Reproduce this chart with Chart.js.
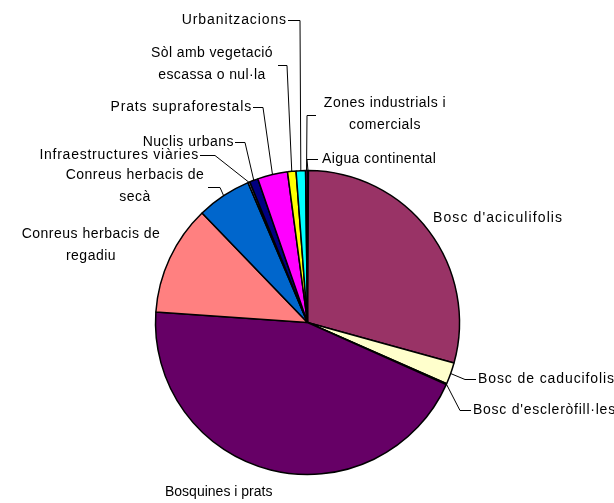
<!DOCTYPE html>
<html>
<head>
<meta charset="utf-8">
<script src="https://cdn.jsdelivr.net/npm/chart.js@4"></script>
<style>
html,body{margin:0;padding:0;background:#fff;}
#wrap{width:614px;height:503px;}
</style>
</head>
<body>
<div id="wrap"><canvas id="c" width="614" height="503"></canvas></div>
<script>
// ---- data ----
const categories = [
  "Aigua continental",
  "Bosc d'aciculifolis",
  "Bosc de caducifolis",
  "Bosc d'escleròfill·les",
  "Bosquines i prats",
  "Conreus herbacis de regadiu",
  "Conreus herbacis de secà",
  "Infraestructures viàries",
  "Nuclis urbans",
  "Prats supraforestals",
  "Sòl amb vegetació escassa o nul·la",
  "Urbanitzacions",
  "Zones industrials i comercials"
];
const values = [0.1, 29.2, 2.3, 0.1, 44.4, 11.7, 5.8, 0.2, 0.9, 3.2, 0.9, 1.0, 0.2];
const colors = ["#9999FF","#993366","#FFFFCC","#CCFFFF","#660066","#FF8080","#0066CC",
                "#CCCCFF","#000080","#FF00FF","#FFFF00","#00FFFF","#800080"];
// wrapped label text (same labels, with line breaks as shown)
const labelText = [
  "Aigua continental",
  "Bosc d'aciculifolis",
  "Bosc de caducifolis",
  "Bosc d'escleròfill·les",
  "Bosquines i prats",
  "Conreus herbacis de\nregadiu",
  "Conreus herbacis de\nsecà",
  "Infraestructures viàries",
  "Nuclis urbans",
  "Prats supraforestals",
  "Sòl amb vegetació\nescassa o nul·la",
  "Urbanitzacions",
  "Zones industrials i\ncomercials"
];

// ---- label layout (positions/styles, separate from data) ----
// x,y: anchor of first line (middle); align; ls: letter spacing; stub: [x0,x1,y] horizontal leader piece
const labelLayout = [
  {x:322, y:159, align:'left',   ls:0.4,  stub:[318,307,159]},
  {x:433, y:218, align:'left',   ls:1.1,  stub:null},
  {x:478, y:379, align:'left',   ls:0.9,  stub:[476,465,379]},
  {x:473, y:410, align:'left',   ls:0.75, stub:[471,460,410]},
  {x:165, y:492, align:'left',   ls:0,    stub:null},
  {x:91,  y:234, align:'center', ls:0.5,  stub:null},
  {x:135, y:175, align:'center', ls:0.5,  stub:[208,220,187]},
  {x:199, y:155, align:'right',  ls:0.75, stub:[200,215,155]},
  {x:234, y:142, align:'right',  ls:0.5,  stub:[235,245,142]},
  {x:252, y:107, align:'right',  ls:0.85, stub:[253,263,107]},
  {x:212, y:53,  align:'center', ls:0.4,  stub:[278,287,65]},
  {x:287, y:20,  align:'right',  ls:0.9,  stub:[288,300,20]},
  {x:385, y:103, align:'center', ls:0.5,  stub:[316,307,115]}
];
const lineHeight = 22;

const labelPlugin = {
  id: 'pieLabels',
  afterDraw(chart) {
    const ctx = chart.ctx;
    const meta = chart.getDatasetMeta(0);
    ctx.save();
    ctx.font = '14px "Liberation Sans", Arial, sans-serif';
    ctx.fillStyle = '#000';
    ctx.textBaseline = 'middle';
    meta.data.forEach((arc, i) => {
      const L = labelLayout[i];
      const lines = labelText[i].split('\n');
      try { ctx.letterSpacing = L.ls + 'px'; } catch(e) {}
      ctx.textAlign = L.align;
      lines.forEach((t, k) => ctx.fillText(t, L.x, L.y + k * lineHeight));
      if (L.stub) {
        const p = arc.getProps(['x','y','startAngle','endAngle','outerRadius'], true);
        const mid = (p.startAngle + p.endAngle) / 2;
        const ex = p.x + Math.cos(mid) * p.outerRadius;
        const ey = p.y + Math.sin(mid) * p.outerRadius;
        ctx.beginPath();
        ctx.strokeStyle = '#000';
        ctx.lineWidth = 1;
        ctx.moveTo(L.stub[0], L.stub[2] + 0.5);
        ctx.lineTo(L.stub[1], L.stub[2] + 0.5);
        ctx.lineTo(ex, ey);
        ctx.stroke();
      }
    });
    ctx.restore();
  }
};

new Chart(document.getElementById('c'), {
  type: 'pie',
  data: {
    labels: categories,
    datasets: [{
      data: values,
      backgroundColor: colors,
      borderColor: '#000',
      borderWidth: 1.5
    }]
  },
  options: {
    responsive: false,
    animation: false,
    radius: 152,
    layout: { padding: { left: 155, right: 154, top: 170, bottom: 28 } },
    plugins: { legend: { display: false }, tooltip: { enabled: false } }
  },
  plugins: [labelPlugin]
});
</script>
</body>
</html>
